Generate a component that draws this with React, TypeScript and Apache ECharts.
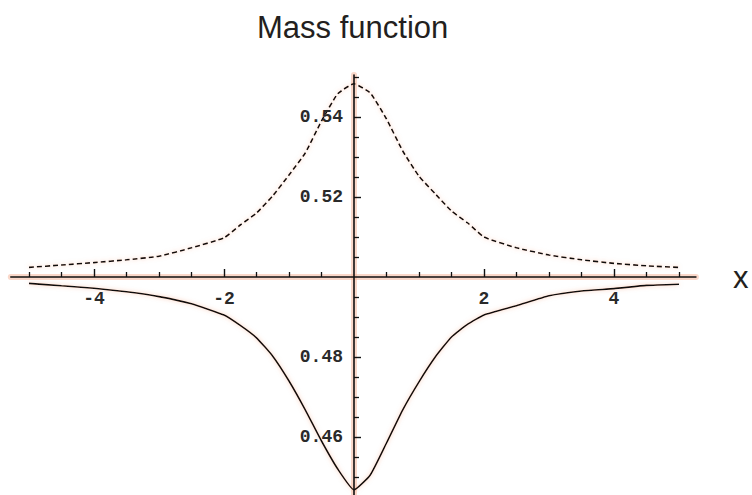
import React, { useEffect, useRef } from "react";
import * as echarts from "echarts";

const TITLE = "Mass function";
const X_NAME = "x";

const xs = [-5, -4.5, -4, -3.5, -3, -2.5, -2, -1.75, -1.5, -1.25, -1, -0.75, -0.5, -0.25, 0,
  0.25, 0.5, 0.75, 1, 1.25, 1.5, 1.75, 2, 2.5, 3, 3.5, 4, 4.5, 5];
const dashedValues = [0.5024, 0.503, 0.5036, 0.5043, 0.5052, 0.5073, 0.5098, 0.513, 0.516, 0.5203,
  0.5255, 0.531, 0.539, 0.5458, 0.5483, 0.546, 0.5395, 0.5315, 0.5252, 0.5208, 0.5165, 0.5135,
  0.51, 0.5073, 0.5055, 0.5043, 0.5034, 0.5028, 0.5024];
const solidValues = [0.4984, 0.4978, 0.4972, 0.4963, 0.4951, 0.4933, 0.4905, 0.4879, 0.4848, 0.4802,
  0.474, 0.4668, 0.459, 0.452, 0.4468, 0.4505, 0.4585, 0.4668, 0.4738, 0.48, 0.485, 0.4882,
  0.4905, 0.4928, 0.4953, 0.4965, 0.4971, 0.4979, 0.4982];

const xMajorTicks = [-4, -2, 2, 4];
const xMinorTicks = [-5, -4.5, -3.5, -3, -2.5, -1.5, -1, -0.5, 0.5, 1, 1.5, 2.5, 3, 3.5, 4.5, 5];
const yMajorTicks = [0.46, 0.48, 0.52, 0.54];
const yMinorTicks = [0.45, 0.455, 0.465, 0.47, 0.475, 0.485, 0.49, 0.495, 0.505, 0.51, 0.515,
  0.525, 0.53, 0.535, 0.545, 0.55];

const X_MIN = -5.28;
const X_MAX = 5.26;
const Y_MIN = 0.4455;
const Y_MAX = 0.5505;
const Y_CROSS = 0.5; // where the x axis crosses the y axis
const X_CROSS = 0; // where the y axis crosses the x axis

const INK = "#111";
const HALO = "rgba(246,178,150,0.5)";
const TICK_FONT = { fontFamily: "Liberation Mono", fontWeight: "bold" as const, fontSize: 18, color: "#2a2a2a" };

export default function App() {
  const ref = useRef<HTMLDivElement>(null);
  useEffect(() => {
    if (!ref.current) return;
    const chart = echarts.init(ref.current, null, { renderer: "svg" });
    const L = 10.8, T = 75, W = 685.1, H = 420;
    const pxPerX = W / (X_MAX - X_MIN);
    const pxPerY = H / (Y_MAX - Y_MIN);
    const crossX = L + (X_CROSS - X_MIN) * pxPerX; // pixel of y axis
    const crossYH = (Y_MAX - Y_CROSS) * pxPerY; // height down to x axis
    const g = (o: object) => ({ outerBoundsMode: "none", containLabel: false, ...o });
    const xGrid = { left: L, top: T, width: W, height: crossYH };
    const yGrid = { left: crossX, top: T, width: L + W - crossX, height: H };
    const hiddenAxis = (gi: number) => ({ type: "value", gridIndex: gi, min: 0, max: 1, show: false });
    const xRange = { type: "value", min: X_MIN, max: X_MAX, splitLine: { show: false } };
    const yRange = { type: "value", min: Y_MIN, max: Y_MAX, splitLine: { show: false } };

    chart.setOption({
      animation: false,
      backgroundColor: "#ffffff",
      title: {
        text: TITLE,
        left: 252,
        top: 7,
        textStyle: { fontFamily: "Liberation Sans", fontSize: 31, fontWeight: "normal", color: "#231f20" },
      },
      grid: [
        g({ left: L, top: T, width: W, height: H }),
        g(xGrid),
        g(xGrid),
        g(yGrid),
        g(yGrid),
      ],
      xAxis: [
        { ...xRange, gridIndex: 0, show: false },
        {
          ...xRange,
          gridIndex: 1,
          position: "bottom",
          z: 5,
          name: X_NAME,
          nameLocation: "end",
          nameGap: 37,
          nameTextStyle: { fontFamily: "Liberation Sans", fontSize: 31, color: "#231f20", padding: [6, 0, 0, 0] },
          axisLine: { show: true, onZero: false, lineStyle: { color: INK, width: 1.6 } },
          axisTick: { show: true, inside: true, length: 8, customValues: xMajorTicks, lineStyle: { color: INK, width: 1.4 } },
          axisLabel: { show: true, customValues: xMajorTicks, margin: 13, formatter: (v: number) => String(v), ...TICK_FONT },
        },
        {
          ...xRange,
          gridIndex: 2,
          position: "bottom",
          z: 1,
          axisLine: { show: true, onZero: false, lineStyle: { color: HALO, width: 6 } },
          axisTick: { show: true, inside: true, length: 5, customValues: xMinorTicks, lineStyle: { color: INK, width: 1.3 } },
          axisLabel: { show: false },
        },
        hiddenAxis(3),
        hiddenAxis(4),
      ],
      yAxis: [
        { ...yRange, gridIndex: 0, show: false },
        hiddenAxis(1),
        hiddenAxis(2),
        {
          ...yRange,
          gridIndex: 3,
          position: "left",
          z: 5,
          axisLine: { show: true, onZero: false, lineStyle: { color: INK, width: 1.6 } },
          axisTick: { show: true, inside: true, length: 7, customValues: yMajorTicks, lineStyle: { color: INK, width: 1.4 } },
          axisLabel: { show: true, customValues: yMajorTicks, margin: 11, formatter: (v: number) => v.toFixed(2), ...TICK_FONT },
        },
        {
          ...yRange,
          gridIndex: 4,
          position: "left",
          z: 1,
          axisLine: { show: true, onZero: false, lineStyle: { color: HALO, width: 6 } },
          axisTick: { show: true, inside: true, length: 5, customValues: yMinorTicks, lineStyle: { color: INK, width: 1.3 } },
          axisLabel: { show: false },
        },
      ],
      series: [
        {
          type: "line",
          xAxisIndex: 0,
          yAxisIndex: 0,
          data: xs.map((x, i) => [x, dashedValues[i]]),
          showSymbol: false,
          smooth: 0.15,
          z: 4,
          lineStyle: { color: INK, width: 1.6, type: [5, 3], shadowColor: "rgba(240,150,110,0.55)", shadowBlur: 4 },
        },
        {
          type: "line",
          xAxisIndex: 0,
          yAxisIndex: 0,
          data: xs.map((x, i) => [x, solidValues[i]]),
          showSymbol: false,
          smooth: 0.15,
          z: 4,
          lineStyle: { color: INK, width: 1.6, shadowColor: "rgba(240,150,110,0.55)", shadowBlur: 4 },
        },
      ],
    });
    return () => chart.dispose();
  }, []);
  return (
    <div
      ref={ref}
      style={{ position: "fixed", left: 0, top: 0, width: 752, height: 495, background: "#fff" }}
    />
  );
}
